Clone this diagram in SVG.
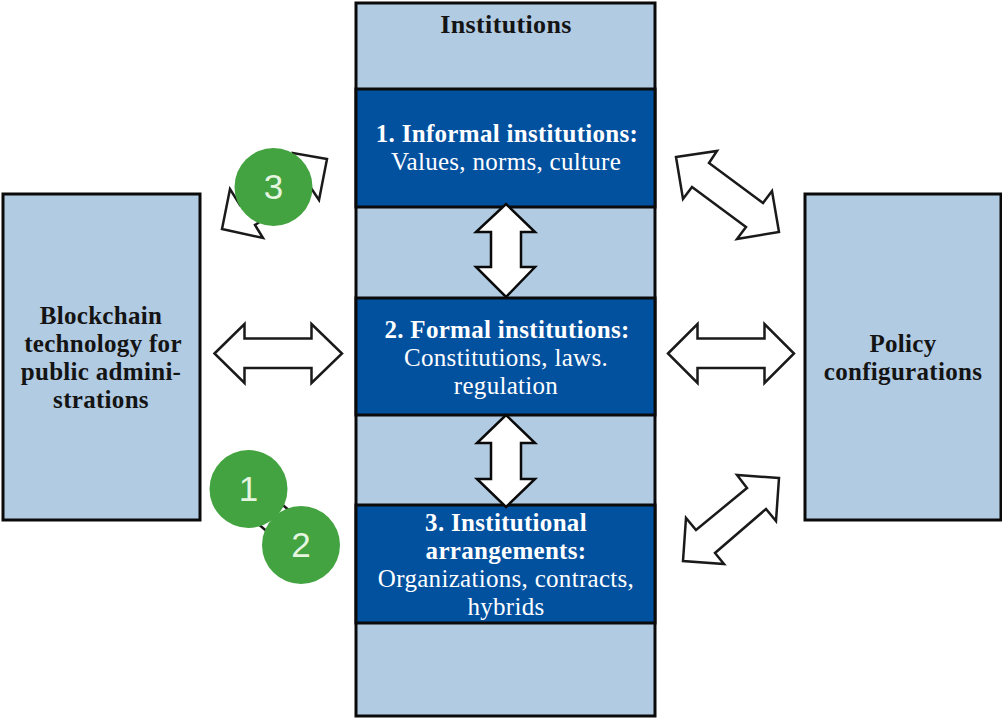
<svg xmlns="http://www.w3.org/2000/svg" width="1002" height="718" viewBox="0 0 1002 718">
<style>
.box{fill:#b1cbe3;stroke:#0a0a0a;stroke-width:3}
.dark{fill:#02519f;stroke:#0a0a0a;stroke-width:3}
.arr{fill:#fff;stroke:#1a1a1a;stroke-width:2.5;stroke-linejoin:miter}
.arrb{fill:#fff;stroke:#0a0a0a;stroke-width:2.5;stroke-linejoin:miter}
.c{fill:#43a341}
.n{font-family:"Liberation Sans",Arial,sans-serif;font-size:35px;fill:#e6f5e0;text-anchor:middle}
text.t{font-family:"Liberation Serif","Times New Roman",serif;font-size:25px;letter-spacing:.3px;text-anchor:middle}
text.h{font-size:26px;letter-spacing:.35px}
.b{font-weight:700}
.k{fill:#141414}
.w{fill:#fff}
</style>
<g id="center-column">
<rect class="box" x="356" y="3" width="299" height="713"/>
<text class="t h b k" x="506" y="33">Institutions</text>
</g>
<g id="informal">
<rect class="dark" x="356" y="89" width="299" height="118"/>
<text class="t b w" x="507" y="142">1. Informal institutions:</text>
<text class="t w" x="506" y="170">Values, norms, culture</text>
</g>
<g id="formal">
<rect class="dark" x="356" y="298" width="299" height="117"/>
<text class="t b w" x="507" y="338">2. Formal institutions:</text>
<text class="t w" x="506" y="366">Constitutions, laws.</text>
<text class="t w" x="506" y="394">regulation</text>
</g>
<g id="arrangements">
<rect class="dark" x="356" y="505" width="299" height="118"/>
<text class="t b w" x="506" y="531">3. Institutional</text>
<text class="t b w" x="506" y="559">arrangements:</text>
<text class="t w" x="506" y="587">Organizations, contracts,</text>
<text class="t w" x="506" y="615">hybrids</text>
</g>
<g id="blockchain">
<rect class="box" x="3" y="194" width="197" height="326"/>
<text class="t b k" x="101" y="324">Blockchain</text>
<text class="t b k" x="103" y="352">technology for</text>
<text class="t b k" x="101" y="380">public admini-</text>
<text class="t b k" x="101" y="408">strations</text>
</g>
<g id="policy">
<rect class="box" x="805" y="194" width="196" height="326"/>
<text class="t b k" x="903" y="352">Policy</text>
<text class="t b k" x="903" y="380">configurations</text>
</g>
<g id="connectors">
<polygon class="arrb" points="506,204 535,232 521,232 521,267 535,267 506,297 476,267 491,267 491,232 476,232"/>
<polygon class="arrb" points="506,415 535,443 521,443 521,479 535,479 506,507 477,479 491,479 491,443 477,443"/>
<polygon class="arr" points="214.5,353.5 244.5,324 244.5,338.5 311.5,338.5 311.5,324 342,353.5 311.5,383 311.5,368 244.5,368 244.5,383"/>
<polygon class="arr" points="668,353.5 697.5,324 697.5,338.5 764.5,338.5 764.5,324 794,353.5 764.5,383 764.5,368 697.5,368 697.5,383"/>
<polygon class="arr" points="676,157 717,151 709,163 763,203 772,191 779,232 737,239 746,227 692,187 683,199"/>
<polygon class="arr" points="779,478 737,475 747,488 696,530 686,518 683,561 724,564 715,553 766,509 776,521"/>
<polygon class="arr" points="327,159 293,153 298,170 240,205 230,189 222,229 263,238 255,225 311,188 319,200"/>
<polygon class="arr" points="278,501 291,512 270,534 257,523"/>
</g>
<g id="badge-3"><circle class="c" cx="273.5" cy="187" r="39"/><text class="n" x="273.5" y="199">3</text></g>
<g id="badge-1"><circle class="c" cx="248.5" cy="489" r="39"/><text class="n" x="248.5" y="501">1</text></g>
<g id="badge-2"><circle class="c" cx="301" cy="545" r="39"/><text class="n" x="301" y="557">2</text></g>
</svg>
